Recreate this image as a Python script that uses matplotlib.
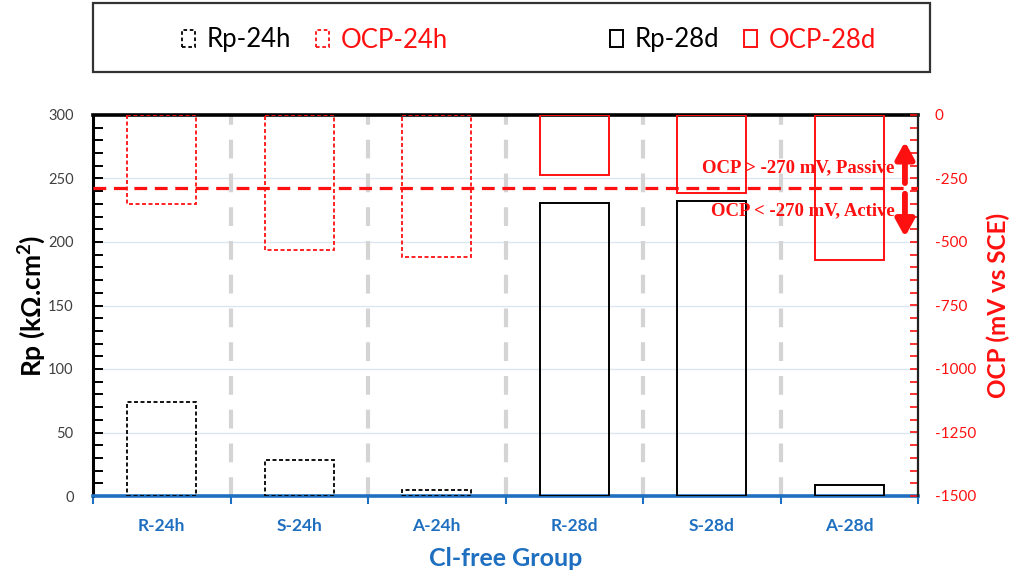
import matplotlib
matplotlib.use("Agg")
import matplotlib.pyplot as plt
import matplotlib.ticker as mticker
import numpy as np
from matplotlib.patches import Patch, Rectangle

plt.rcParams["font.family"] = ["Lato", "DejaVu Sans"]
plt.rcParams["axes.unicode_minus"] = False
plt.rcParams["mathtext.fontset"] = "custom"
plt.rcParams["mathtext.bf"] = "Lato:bold"
plt.rcParams["mathtext.rm"] = "Lato"

# ── Data ─────────────────────────────────────────────────────────────────────
GROUPS = ["R-24h", "S-24h", "A-24h", "R-28d", "S-28d", "A-28d"]
RP_KOHM = [74, 28, 5, 231, 232, 9]                 # Rp (kOhm.cm2)
OCP_MV = [-351, -530, -560, -238, -307, -570]      # OCP (mV vs SCE)
IS_24H = [True, True, True, False, False, False]
OCP_LINE = -288                                    # threshold line as drawn

RED = "#FF1010"
BLUE = "#1F6FC0"
GRID = "#DCE6F2"
SEP = "#D4D4D4"

fig = plt.figure(figsize=(10.18, 5.76), dpi=100)
ax = fig.add_axes([93 / 1018, 80 / 576, 825 / 1018, 381 / 576])
ax2 = ax.twinx()

x = np.arange(len(GROUPS))

# grid + separators
ax.set_axisbelow(True)
ax.yaxis.grid(True, color=GRID, lw=1.0)
for b in x[:-1] + 0.5:
    ax.axvline(b, color=SEP, lw=3, dashes=(4.5, 3.6), zorder=1)

# Rp bars
for xi, rp, short in zip(x, RP_KOHM, IS_24H):
    ax.bar(xi, rp, width=0.5, fill=False, edgecolor="black",
           linestyle=(0, (2.2, 1.4)) if short else "-",
           linewidth=1.3 if short else 1.4, zorder=3)

# OCP bars (hanging from 0)
for xi, ocp, short in zip(x, OCP_MV, IS_24H):
    ax2.bar(xi, ocp, width=0.5, fill=False, edgecolor=RED,
            linestyle=(0, (2.2, 1.4)) if short else "-",
            linewidth=1.3 if short else 1.4, zorder=3)

ax2.axhline(OCP_LINE, color=RED, lw=2.3, dashes=(4.0, 2.4), zorder=4)

# arrows + text
arrow_kw = dict(arrowstyle="-|>,head_width=0.55,head_length=1.0",
                color=RED, lw=4.2, shrinkA=0, shrinkB=0)
ax2.annotate("", xy=(5.405, -105), xytext=(5.405, -268), arrowprops=arrow_kw)
ax2.annotate("", xy=(5.405, -480), xytext=(5.405, -310), arrowprops=arrow_kw)
serif = ["Liberation Serif", "DejaVu Serif"]
ax2.text(5.33, -208, "OCP > -270 mV, Passive", ha="right", va="center",
         color=RED, fontsize=13.5, fontweight="bold", family=serif)
ax2.text(5.33, -378, "OCP < -270 mV, Active", ha="right", va="center",
         color=RED, fontsize=13.5, fontweight="bold", family=serif)

# axes limits & ticks
ax.set_xlim(-0.5, 5.5)
ax.set_ylim(0, 300)
ax2.set_ylim(-1500, 0)

ax.set_xticks(x)
ax.set_xticklabels(GROUPS, fontsize=12.5, fontweight="bold", color=BLUE)
ax.xaxis.set_minor_locator(mticker.FixedLocator(np.arange(-0.5, 6.0, 1.0)))
ax.tick_params(axis="x", which="major", length=0, pad=16)
ax.tick_params(axis="x", which="minor", length=6, width=1.5, color=BLUE,
               direction="out")

ax.yaxis.set_major_locator(mticker.MultipleLocator(50))
ax.yaxis.set_minor_locator(mticker.MultipleLocator(10))
ax.tick_params(axis="y", which="both", direction="in", length=7, width=1.4,
               color="black", labelcolor="#404040", labelsize=10.5, pad=14)

ax2.yaxis.set_major_locator(mticker.MultipleLocator(250))
ax2.yaxis.set_minor_locator(mticker.MultipleLocator(50))
ax2.tick_params(axis="y", which="both", direction="in", length=6, width=1.2,
                color=RED, labelcolor=RED, labelsize=11, pad=12)

for s in ["top", "right", "left", "bottom"]:
    ax2.spines[s].set_visible(False)
ax2.spines["right"].set_visible(True)
ax2.spines["right"].set_color("#222222")
ax2.spines["right"].set_linewidth(1.6)
ax.spines["right"].set_visible(False)
ax.spines["left"].set_color("black")
ax.spines["left"].set_linewidth(2.2)
ax.spines["top"].set_color("black")
ax.spines["top"].set_linewidth(2.6)
ax.spines["bottom"].set_color(BLUE)
ax.spines["bottom"].set_linewidth(2.6)

ax.set_ylabel(r"Rp (kΩ.cm$^{\mathbf{2}}$)", fontsize=19, fontweight="bold",
              labelpad=0)
ax2.set_ylabel("OCP (mV vs SCE)", fontsize=17.5, fontweight="bold", color=RED,
               labelpad=8)
ax.set_xlabel("Cl-free Group", fontsize=18, fontweight="bold", color=BLUE,
              labelpad=9)

# legend box
fig.add_artist(Rectangle((93 / 1018, 1 - 72 / 576), 837 / 1018, 69 / 576,
                         transform=fig.transFigure, fill=False,
                         edgecolor="#333333", lw=1.6))
h24 = [Patch(fill=False, edgecolor="black", linestyle=(0, (2, 1.5)), lw=1.3),
       Patch(fill=False, edgecolor=RED, linestyle=(0, (2, 1.5)), lw=1.3)]
h28 = [Patch(fill=False, edgecolor="black", lw=1.4),
       Patch(fill=False, edgecolor=RED, lw=1.4)]
common = dict(ncol=2, frameon=False, fontsize=18.5, handlelength=0.5,
              handleheight=0.6, handletextpad=0.45, columnspacing=1.0,
              loc="center")
leg1 = fig.legend(h24, ["Rp-24h", "OCP-24h"], labelcolor=["black", RED],
                  bbox_to_anchor=(315 / 1018, 1 - 40 / 576), **common)
leg2 = fig.legend(h28, ["Rp-28d", "OCP-28d"], labelcolor=["black", RED],
                  bbox_to_anchor=(743 / 1018, 1 - 40 / 576), **common)

fig.savefig("out.png", dpi=100, facecolor="white")
